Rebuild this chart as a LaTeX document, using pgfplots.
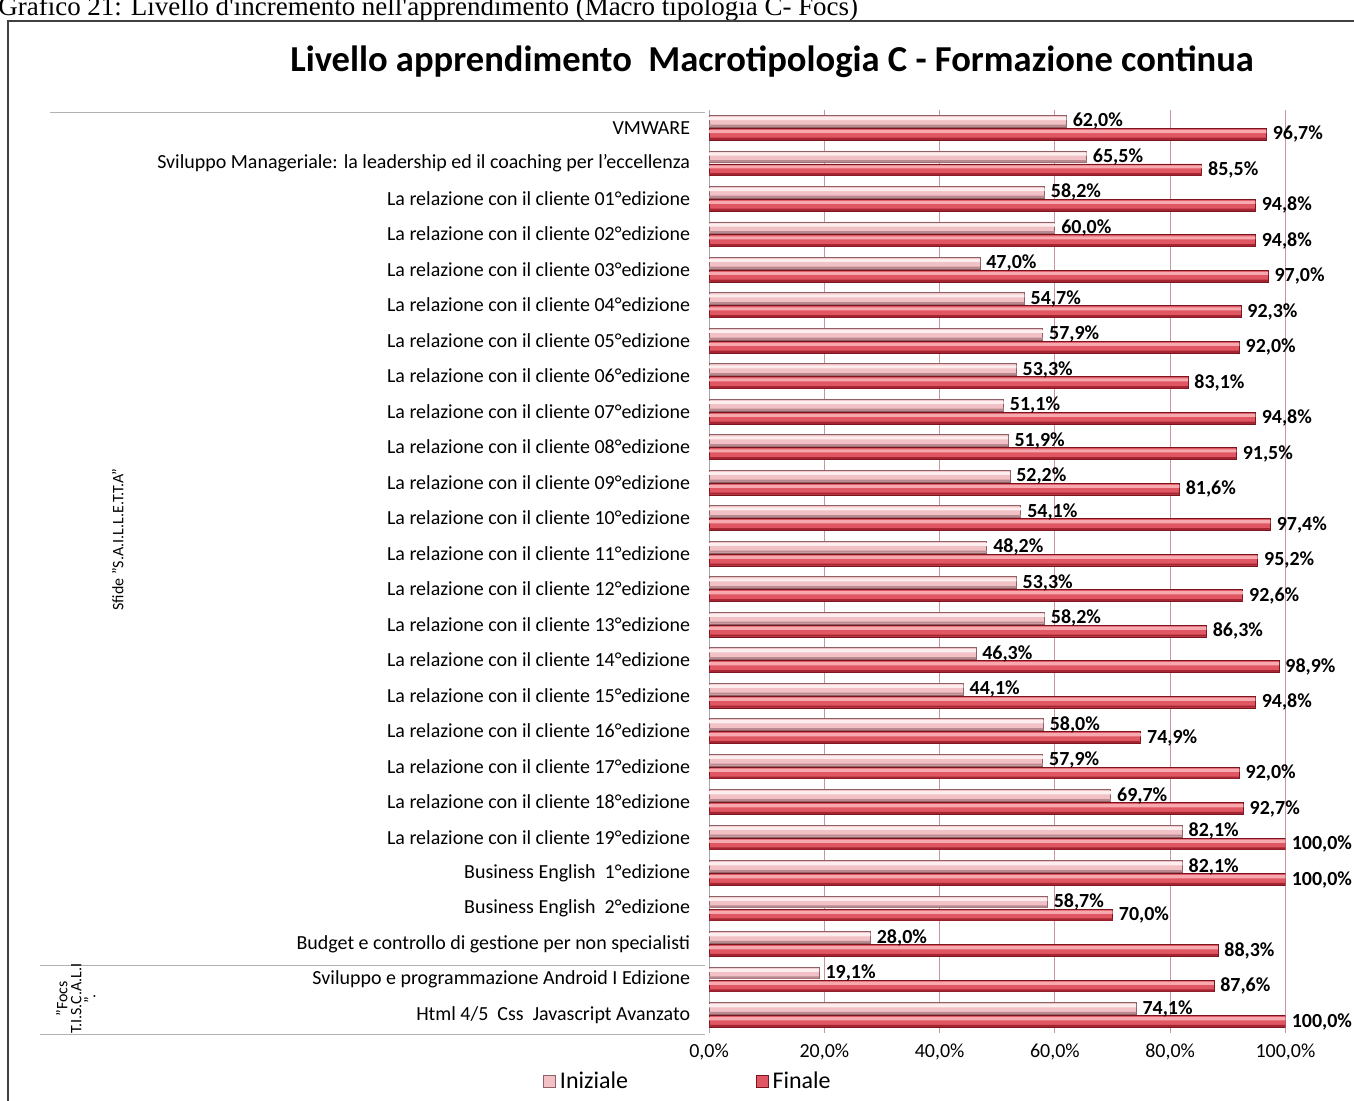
\documentclass[border=0pt]{standalone}
\usepackage{fontspec}
\setmainfont{Carlito}
\newfontfamily\capfont{Liberation Serif}
\usepackage{pgfplots}
\usepackage{pgfplotstable}
\pgfplotsset{compat=1.18}
\definecolor{iniztop}{HTML}{FCEDEE}
\definecolor{inizmid}{HTML}{F1C1C5}
\definecolor{inizbot}{HTML}{B98A8F}
\definecolor{inizedge}{HTML}{8E6166}
\definecolor{fintop}{HTML}{F6A9AE}
\definecolor{finmid}{HTML}{E05662}
\definecolor{finbot}{HTML}{A52533}
\definecolor{finedge}{HTML}{7A1520}
\definecolor{gridc}{HTML}{C9949A}
\definecolor{redline}{HTML}{C8404E}

% y = row from the bottom (Html = 0, VMWARE = 25)
\pgfplotstableread{
y iniz fin
0 74.1 100.0
1 19.1 87.6
2 28.0 88.3
3 58.7 70.0
4 82.1 100.0
5 82.1 100.0
6 69.7 92.7
7 57.9 92.0
8 58.0 74.9
9 44.1 94.8
10 46.3 98.9
11 58.2 86.3
12 53.3 92.6
13 48.2 95.2
14 54.1 97.4
15 52.2 81.6
16 51.9 91.5
17 51.1 94.8
18 53.3 83.1
19 57.9 92.0
20 54.7 92.3
21 47.0 97.0
22 60.0 94.8
23 58.2 94.8
24 65.5 85.5
25 62.0 96.7
}\datatab

\begin{document}
\begin{tikzpicture}
% page laid out in pixel units of the reference (y downwards)
\begin{scope}[x=0.5pt,y=-0.5pt]
\path[use as bounding box] (0,0) rectangle (1354,1102);
\node[anchor=base west,inner sep=0pt,font=\capfont\fontsize{13.5}{15}\selectfont]
  at (-2,15.5) {Grafico 21: Livello d'incremento nell'apprendimento (Macro tipologia C- Focs)};
\draw[line width=0.9pt,black!75] (8,1110) -- (8,21) -- (1360,21);
\node[font=\bfseries\fontsize{18.3}{22}\selectfont] at (773,62)
  {Livello apprendimento\ \ Macrotipologia C - Formazione continua};
\draw[gray!60] (50,113) -- (706,113);
\draw[gray!60] (40,967) -- (706,967);
\draw[gray!60] (40,1036) -- (706,1036);
\node[rotate=90,font=\fontsize{8}{9}\selectfont] at (118,540) {Sfide "S.A.I.L.L.E.T.T.A"};
\node[rotate=90,align=center,font=\fontsize{8}{7}\selectfont] at (76,1000)
  {"Focs\\T.I.S.C.A.L.I\\".};
\end{scope}

\begin{axis}[
 at={(355pt,-55pt)},anchor=north west,
 width=288.5pt,height=462pt,scale only axis,
 xmin=0,xmax=100,ymin=-0.5,ymax=25.5,
 xtick={0,20,...,100},ytick={0,...,25},
 yticklabels={
  {Html 4/5\ \ Css\ \ Javascript Avanzato},
  {Sviluppo e programmazione Android I Edizione},
  {Budget e controllo di gestione per non specialisti},
  {Business English\ \ 2°edizione},
  {Business English\ \ 1°edizione},
  {La relazione con il cliente 19°edizione},
  {La relazione con il cliente 18°edizione},
  {La relazione con il cliente 17°edizione},
  {La relazione con il cliente 16°edizione},
  {La relazione con il cliente 15°edizione},
  {La relazione con il cliente 14°edizione},
  {La relazione con il cliente 13°edizione},
  {La relazione con il cliente 12°edizione},
  {La relazione con il cliente 11°edizione},
  {La relazione con il cliente 10°edizione},
  {La relazione con il cliente 09°edizione},
  {La relazione con il cliente 08°edizione},
  {La relazione con il cliente 07°edizione},
  {La relazione con il cliente 06°edizione},
  {La relazione con il cliente 05°edizione},
  {La relazione con il cliente 04°edizione},
  {La relazione con il cliente 03°edizione},
  {La relazione con il cliente 02°edizione},
  {La relazione con il cliente 01°edizione},
  {Sviluppo Manageriale: la leadership ed il coaching per l'eccellenza},
  {VMWARE}},
 xmajorgrids,major grid style={draw=gridc,line width=0.6pt},
 extra x ticks={100},extra x tick labels={},
 extra x tick style={grid style={draw=redline,line width=0.9pt}},
 axis lines*=left,x axis line style={draw=none},y axis line style={draw=gray!70},
 major tick length=0pt,
 /pgf/number format/assume math mode=true,
 xticklabel={\pgfmathprintnumber[fixed,fixed zerofill,precision=1,use comma]{\tick}\%},
 x tick label style={font=\fontsize{10}{12}\selectfont,yshift=-2pt},
 y tick label style={font=\fontsize{10}{12}\selectfont,xshift=-6pt},
 xbar,
 labs/.style={point meta=x,
   nodes near coords={\pgfmathprintnumber[fixed,fixed zerofill,precision=1,use comma]{\pgfplotspointmeta}\%},
   every node near coord/.append style={font=\bfseries\fontsize{10}{12}\selectfont,
     text=black,anchor=west,inner sep=1pt,xshift=2pt}},
 legend style={at={(axis description cs:-0.299,-0.053)},anchor=west,draw=none,fill=none,
   legend columns=2,font=\fontsize{12}{14}\selectfont,
   /tikz/every even column/.append style={column sep=62pt}},
 legend image code/.code={\draw[#1] (0pt,-3pt) rectangle (6pt,3pt);},
]
% Iniziale: body, highlight, shadow
\addplot[labs,bar width=5.8pt,bar shift=3.2pt,draw=inizedge,line width=0.4pt,fill=inizmid]
  table[x=iniz,y=y] {\datatab};
\addplot[forget plot,bar width=1.6pt,bar shift=4.6pt,draw=none,fill=iniztop]
  table[x=iniz,y=y] {\datatab};
\addplot[forget plot,bar width=1.1pt,bar shift=0.95pt,draw=none,fill=inizbot]
  table[x=iniz,y=y] {\datatab};
% Finale: body, highlight, shadow
\addplot[labs,bar width=5.8pt,bar shift=-3.3pt,draw=finedge,line width=0.4pt,fill=finmid]
  table[x=fin,y=y] {\datatab};
\addplot[forget plot,bar width=1.6pt,bar shift=-1.9pt,draw=none,fill=fintop]
  table[x=fin,y=y] {\datatab};
\addplot[forget plot,bar width=1.1pt,bar shift=-5.55pt,draw=none,fill=finbot]
  table[x=fin,y=y] {\datatab};
\legend{Iniziale,Finale}
\end{axis}
\end{tikzpicture}
\end{document}
